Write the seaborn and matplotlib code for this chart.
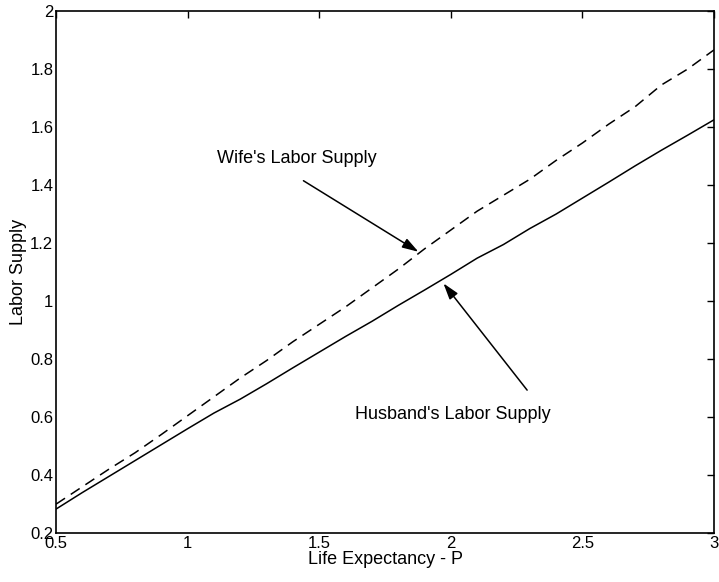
import numpy as np
import pandas as pd
import matplotlib
matplotlib.use("Agg")
import matplotlib.pyplot as plt
import seaborn as sns

# Life expectancy grid and the two labor supply curves
life_exp = [0.5, 0.6, 0.7, 0.8, 0.9, 1.0, 1.1, 1.2, 1.3, 1.4, 1.5, 1.6, 1.7,
            1.8, 1.9, 2.0, 2.1, 2.2, 2.3, 2.4, 2.5, 2.6, 2.7, 2.8, 2.9, 3.0]
husband = [0.283, 0.34, 0.395, 0.45, 0.505, 0.56, 0.614, 0.662, 0.715, 0.77,
           0.824, 0.878, 0.93, 0.985, 1.038, 1.092, 1.148, 1.195, 1.25, 1.30,
           1.355, 1.41, 1.466, 1.52, 1.572, 1.625]
wife = [0.30, 0.36, 0.42, 0.477, 0.54, 0.605, 0.67, 0.735, 0.795, 0.86,
        0.92, 0.98, 1.045, 1.11, 1.18, 1.245, 1.31, 1.365, 1.42, 1.485,
        1.545, 1.61, 1.67, 1.745, 1.80, 1.866]

df = pd.DataFrame({
    "P": life_exp * 2,
    "supply": husband + wife,
    "who": ["Husband"] * len(life_exp) + ["Wife"] * len(life_exp),
})

sns.set_style("white")
plt.rcParams['font.family'] = ['Liberation Sans', 'DejaVu Sans']
plt.rcParams['text.color'] = 'black'
plt.rcParams['axes.labelcolor'] = 'black'

fig = plt.figure(figsize=(7.19, 5.82), dpi=100)
ax = fig.add_axes([0.078, 0.084, 0.915, 0.897])

sns.lineplot(data=df, x="P", y="supply", style="who",
             dashes={"Husband": "", "Wife": (7, 4.5)},
             color="black", linewidth=1.1, legend=False, ax=ax)

ax.set_xlim(0.5, 3)
ax.set_ylim(0.2, 2)
ax.set_xticks([0.5, 1, 1.5, 2, 2.5, 3])
ax.set_xticklabels(["0.5", "1", "1.5", "2", "2.5", "3"])
ax.set_yticks([0.2, 0.4, 0.6, 0.8, 1, 1.2, 1.4, 1.6, 1.8, 2])
ax.set_yticklabels(["0.2", "0.4", "0.6", "0.8", "1", "1.2", "1.4", "1.6", "1.8", "2"])
ax.tick_params(direction="in", length=5, width=1, labelsize=12,
               top=True, right=True, pad=2, colors="black")
for s in ax.spines.values():
    s.set_visible(True)
    s.set_color("black")
    s.set_linewidth(1.2)

ax.set_xlabel("Life Expectancy - P", fontsize=13, labelpad=0)
ax.set_ylabel("Labor Supply", fontsize=13, labelpad=2)

arrow = dict(arrowstyle="-|>,head_length=0.7,head_width=0.22", color="black",
             lw=1.1, mutation_scale=14, shrinkA=0, shrinkB=0)
ax.text(1.112, 1.493, "Wife's Labor Supply", fontsize=13, va="center", ha="left")
ax.annotate("", xy=(1.877, 1.17), xytext=(1.44, 1.415), arrowprops=arrow)
ax.text(1.636, 0.61, "Husband's Labor Supply", fontsize=13, va="center", ha="left")
ax.annotate("", xy=(1.972, 1.061), xytext=(2.29, 0.693), arrowprops=arrow)

fig.savefig("out.png", dpi=100)
